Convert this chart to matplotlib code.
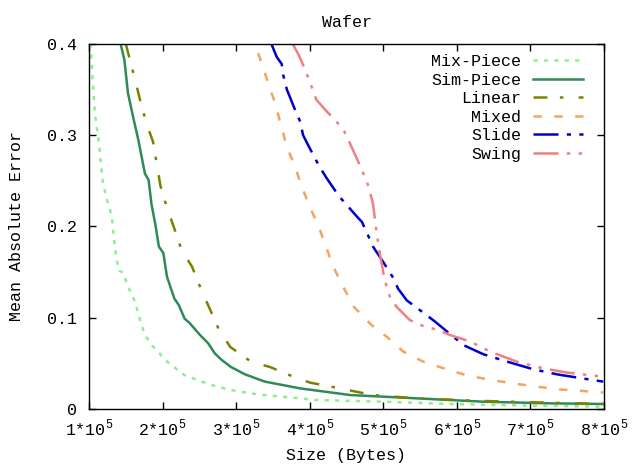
import matplotlib
matplotlib.use("Agg")
import matplotlib.pyplot as plt
from matplotlib.ticker import FixedLocator, FuncFormatter

plt.rcParams['font.family'] = ['Liberation Mono', 'DejaVu Sans Mono']
plt.rcParams['mathtext.fontset'] = 'custom'
plt.rcParams['mathtext.rm'] = 'Liberation Mono'
plt.rcParams['lines.scale_dashes'] = False

# ---- data (x in units of 1e5 bytes) ----
mix_x = [1.02, 1.05, 1.08, 1.13, 1.19, 1.26, 1.31, 1.35, 1.40, 1.47, 1.53, 1.60, 1.67, 1.72,
         1.78, 1.85, 1.94, 2.03, 2.17, 2.30, 2.53, 2.76, 2.98, 3.30, 4.09, 5.00, 5.90, 6.81, 7.99]
mix_y = [0.400, 0.360, 0.324, 0.295, 0.247, 0.225, 0.211, 0.178, 0.152, 0.149, 0.134, 0.123, 0.105, 0.090,
         0.079, 0.070, 0.063, 0.054, 0.045, 0.037, 0.030, 0.024, 0.020, 0.016, 0.0099, 0.008, 0.0055, 0.004, 0.0025]

sim_x = [1.43, 1.48, 1.53, 1.60, 1.67, 1.76, 1.81, 1.85, 1.90, 1.95, 2.01, 2.06, 2.16, 2.22, 2.30,
         2.37, 2.51, 2.62, 2.71, 2.80, 2.93, 3.12, 3.39, 3.87, 4.55, 5.45, 6.36, 7.27, 7.99]
sim_y = [0.400, 0.383, 0.346, 0.320, 0.295, 0.258, 0.251, 0.224, 0.203, 0.178, 0.171, 0.145, 0.121, 0.114, 0.099,
         0.094, 0.081, 0.072, 0.061, 0.054, 0.046, 0.038, 0.030, 0.0226, 0.0153, 0.0117, 0.008, 0.0062, 0.0055]

lin_x = [1.50, 1.63, 1.69, 1.78, 1.87, 1.92, 1.97, 2.05, 2.15, 2.26, 2.40, 2.53, 2.64, 2.76, 2.92,
         3.20, 3.46, 3.73, 4.00, 4.32, 4.86, 5.45, 6.36, 7.27, 7.99]
lin_y = [0.400, 0.360, 0.340, 0.313, 0.293, 0.269, 0.245, 0.223, 0.200, 0.174, 0.156, 0.130, 0.110, 0.088, 0.068,
         0.052, 0.046, 0.037, 0.029, 0.024, 0.0153, 0.0117, 0.0088, 0.0069, 0.0055]

mixed_x = [3.30, 3.42, 3.53, 3.61, 3.69, 3.80, 3.89, 4.00, 4.14, 4.32, 4.48, 4.60, 4.84, 5.05, 5.27,
           5.54, 5.86, 6.13, 6.45, 6.77, 7.09, 7.36, 7.67, 7.99]
mixed_y = [0.390, 0.361, 0.335, 0.311, 0.287, 0.266, 0.244, 0.222, 0.196, 0.156, 0.130, 0.112, 0.092, 0.079, 0.063,
           0.052, 0.0435, 0.037, 0.032, 0.028, 0.0245, 0.0216, 0.020, 0.018]

slide_x = [3.48, 3.55, 3.62, 3.64, 3.69, 3.80, 3.87, 3.91, 4.05, 4.13, 4.23, 4.40, 4.51, 4.64, 4.71,
           4.80, 4.86, 5.00, 5.14, 5.20, 5.32, 5.57, 5.70, 6.09, 6.36, 6.68, 7.04, 7.36, 7.67, 7.99]
slide_y = [0.400, 0.386, 0.378, 0.366, 0.350, 0.328, 0.315, 0.300, 0.278, 0.266, 0.253, 0.233, 0.223, 0.211, 0.205,
           0.189, 0.178, 0.161, 0.143, 0.132, 0.119, 0.104, 0.096, 0.070, 0.060, 0.052, 0.0435, 0.038, 0.034, 0.030]

swing_x = [3.77, 3.85, 3.91, 3.99, 4.09, 4.21, 4.34, 4.46, 4.57, 4.66, 4.73, 4.80, 4.86, 4.91, 4.96,
           5.02, 5.09, 5.18, 5.36, 5.54, 5.73, 5.91, 6.18, 6.45, 6.81, 7.17, 7.49, 7.99]
swing_y = [0.400, 0.388, 0.377, 0.361, 0.339, 0.328, 0.317, 0.306, 0.287, 0.271, 0.258, 0.244, 0.225, 0.193, 0.167,
           0.141, 0.123, 0.112, 0.0975, 0.091, 0.087, 0.081, 0.074, 0.063, 0.052, 0.0446, 0.040, 0.0354]

series = [
    ("Mix-Piece", mix_x, mix_y, "#90ee90", (0, (3.0, 4.5))),
    ("Sim-Piece", sim_x, sim_y, "#2e8b57", "-"),
    ("Linear", lin_x, lin_y, "#808000", (0, (10, 9, 2.5, 11))),
    ("Mixed", mixed_x, mixed_y, "#f4a460", (0, (6, 9))),
    ("Slide", slide_x, slide_y, "#0000cd", (0, (18, 6, 3, 6))),
    ("Swing", swing_x, swing_y, "#f08080", (0, (18, 6, 2.5, 6, 2.5, 6))),
]

xticks = [1, 2, 3, 4, 5, 6, 7, 8]
yticks = [0, 0.1, 0.2, 0.3, 0.4]

fig = plt.figure(figsize=(6.33, 4.67), dpi=100)
ax = fig.add_axes([89/633, 1-409/467, 515/633, 365/467])

for name, xs, ys, col, ls in series:
    ax.plot([v * 1e5 for v in xs], ys, color=col, linestyle=ls, linewidth=1.8, label=name)

ax.set_xlim(1e5, 8e5)
ax.set_ylim(0, 0.4)
ax.xaxis.set_major_locator(FixedLocator([t * 1e5 for t in xticks]))
ax.yaxis.set_major_locator(FixedLocator(yticks))
ax.xaxis.set_major_formatter(FuncFormatter(lambda v, p: "%d*10$^\\mathregular{5}$" % round(v / 1e5)))
ax.yaxis.set_major_formatter(FuncFormatter(lambda v, p: "0" if abs(v) < 1e-9 else "%.1f" % v))
ax.tick_params(direction='in', top=True, right=True, length=5, width=1, labelsize=12)
ax.tick_params(axis='x', pad=6)
ax.tick_params(axis='y', pad=9)
for s in ax.spines.values():
    s.set_linewidth(1)

ax.set_xlabel("Size (Bytes)", fontsize=12, labelpad=7)
ax.set_ylabel("Mean Absolute Error", fontsize=12, labelpad=16)
ax.set_title("Wafer", fontsize=12, pad=12)

ax.legend(loc='upper right', bbox_to_anchor=(0.959, 0.972), frameon=False, markerfirst=False,
          fontsize=12, handlelength=3.0, handletextpad=0.7, labelspacing=0.21,
          borderaxespad=0, borderpad=0)

fig.savefig("out.png", dpi=100)
